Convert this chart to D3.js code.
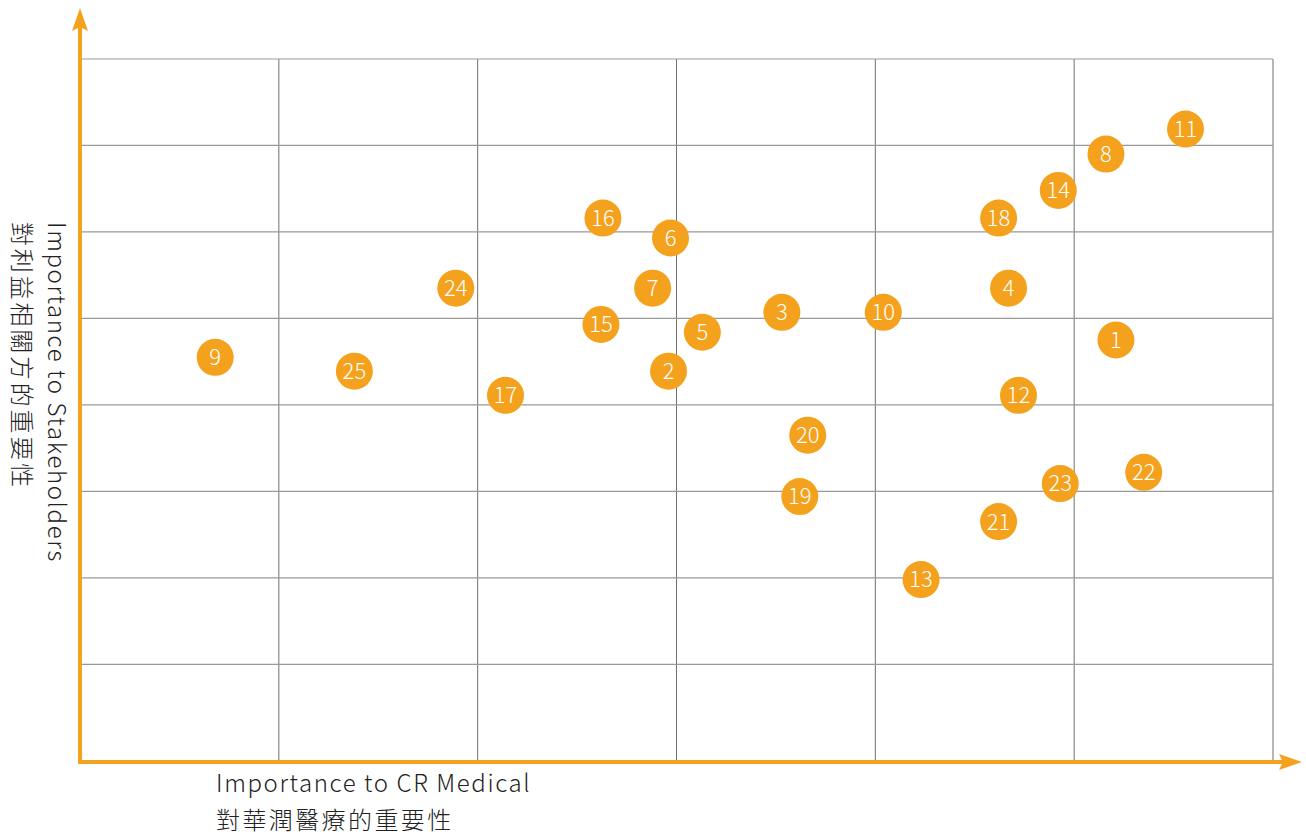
<!DOCTYPE html>
<html>
<head>
<meta charset="utf-8">
<script src="https://cdn.jsdelivr.net/npm/d3@7.9.0/dist/d3.min.js"></script>
<style>
  body { margin: 0; background: #fff; }
  svg text { font-family: "Noto Sans CJK TC", "Noto Sans", sans-serif; font-weight: 300; }
</style>
</head>
<body>
<svg id="chart" width="1306" height="836"></svg>
<script>
// issue ids and their scores (x: importance to CR Medical, y: importance to stakeholders)
const ids = [1, 2, 3, 4, 5, 6, 7, 8, 9, 10, 11, 12, 13, 14, 15, 16, 17, 18, 19, 20, 21, 22, 23, 24, 25];
const xVals = [5.21, 2.96, 3.53, 4.67, 3.13, 2.97, 2.88, 5.16, 0.68, 4.04, 5.56, 4.72, 4.23, 4.92, 2.62, 2.63, 2.14, 4.62, 3.62, 3.66, 4.62, 5.35, 4.93, 1.89, 1.38];
const yVals = [4.75, 4.39, 5.07, 5.35, 4.84, 5.93, 5.35, 6.90, 4.55, 5.07, 7.19, 4.11, 1.98, 6.48, 4.93, 6.16, 4.11, 6.16, 2.94, 3.65, 2.65, 3.22, 3.09, 5.35, 4.39];
const xTicks = [1, 2, 3, 4, 5, 6];
const yTicks = [1, 2, 3, 4, 5, 6, 7, 8];
const xLabel = ["Importance to CR Medical", "對華潤醫療的重要性"];
const yLabel = ["Importance to Stakeholders", "對利益相關方的重要性"];

const orange = "#F4A21E";
const svg = d3.select("#chart");

const x = d3.scaleLinear().domain([0, 6]).range([80, 1273]);
const y = d3.scaleLinear().domain([-0.13, 8]).range([762, 59]);

// grid
svg.append("g")
  .selectAll("line")
  .data(xTicks)
  .join("line")
  .attr("x1", d => x(d)).attr("x2", d => x(d))
  .attr("y1", y(8)).attr("y2", y(-0.13))
  .attr("stroke", "#707070")
  .attr("stroke-width", 1);

svg.append("g")
  .selectAll("line")
  .data(yTicks)
  .join("line")
  .attr("x1", x(0)).attr("x2", x(6))
  .attr("y1", d => y(d)).attr("y2", d => y(d))
  .attr("stroke", "#999")
  .attr("stroke-width", 1.2);

// axes with arrows
const axisY = y(-0.13), axisX = x(0);
svg.append("line")
  .attr("x1", axisX).attr("x2", axisX)
  .attr("y1", axisY + 2).attr("y2", 26)
  .attr("stroke", orange).attr("stroke-width", 4);
svg.append("path")
  .attr("d", `M${axisX},8 L${axisX - 8},31 L${axisX},27 L${axisX + 8},31 Z`)
  .attr("fill", orange);

svg.append("line")
  .attr("x1", axisX - 2).attr("x2", 1284)
  .attr("y1", axisY).attr("y2", axisY)
  .attr("stroke", orange).attr("stroke-width", 4);
svg.append("path")
  .attr("d", `M1302,${axisY} L1279,${axisY - 8} L1283,${axisY} L1279,${axisY + 8} Z`)
  .attr("fill", orange);

// axis titles
svg.append("g")
  .selectAll("text")
  .data(xLabel)
  .join("text")
  .attr("x", 216)
  .attr("y", (d, i) => 792 + i * 37)
  .attr("font-size", 24)
  .attr("letter-spacing", (d, i) => i ? 2.4 : 1.6)
  .attr("fill", "#222")
  .text(d => d);

svg.append("g")
  .attr("transform", "translate(48,222) rotate(90)")
  .selectAll("text")
  .data(yLabel)
  .join("text")
  .attr("x", 0)
  .attr("y", (d, i) => i * 35)
  .attr("font-size", 24)
  .attr("letter-spacing", (d, i) => i ? 2.8 : 1.6)
  .attr("fill", "#222")
  .text(d => d);

// points
const points = ids.map((id, i) => ({ id, x: xVals[i], y: yVals[i] }));
const node = svg.append("g")
  .selectAll("g")
  .data(points)
  .join("g")
  .attr("transform", d => `translate(${x(d.x)},${y(d.y)})`);

node.append("circle")
  .attr("r", 18.5)
  .attr("fill", orange);

node.append("text")
  .attr("text-anchor", "middle")
  .attr("dy", "0.36em")
  .attr("font-size", 22)
  .attr("fill", "#fff")
  .text(d => d.id);
</script>
</body>
</html>
